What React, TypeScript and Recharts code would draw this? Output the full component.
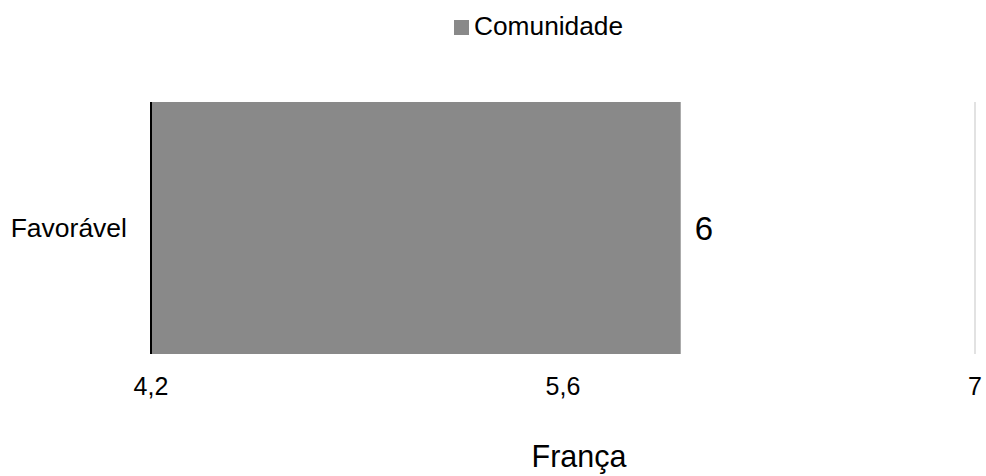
import React from 'react';
import { BarChart, Bar, XAxis, YAxis, CartesianGrid, LabelList, Label } from 'recharts';

const categories = ['Favorável'];
const comunidade = [6];
const xTicks = [4.2, 5.6, 7];
const seriesName = 'Comunidade';
const axisTitle = 'França';

const data = categories.map((name, i) => ({ name, Comunidade: comunidade[i] }));

const FONT = '"Liberation Sans", Arial, sans-serif';
const BAR_COLOR = '#898989';

export default function App() {
  return (
    <div style={{ position: 'absolute', left: 0, top: 0, width: 986, height: 476, background: '#fff' }}>
      {/* legend, drawn on top so it doesn't push the plot down */}
      <span style={{ position: 'absolute', left: 454, top: 20, width: 15, height: 15, background: BAR_COLOR }} />
      <span
        style={{
          position: 'absolute', left: 474, top: 13, fontFamily: FONT, fontSize: 26.3,
          lineHeight: '26px', color: '#000', whiteSpace: 'nowrap',
        }}
      >
        {seriesName}
      </span>
      <BarChart
        layout="vertical"
        width={986}
        height={476}
        data={data}
        margin={{ top: 102, right: 11, bottom: 0, left: 0 }}
        barCategoryGap={0}
        style={{ fontFamily: FONT }}
      >
        <CartesianGrid horizontal={false} stroke="#d9d9d9" strokeWidth={1.5} />
        <XAxis
          type="number"
          domain={[4.2, 7]}
          ticks={xTicks}
          allowDataOverflow
          axisLine={false}
          tickLine={false}
          tickSize={0}
          tickMargin={23}
          height={122}
          tick={{ fill: '#000', fontSize: 25 }}
          tickFormatter={(v: number) => String(v).replace('.', ',')}
        >
          <Label value={axisTitle} position="insideBottom" offset={9} dx={16} fill="#000" fontSize={30.5} />
        </XAxis>
        <YAxis
          type="category"
          dataKey="name"
          width={151}
          axisLine={{ stroke: '#000', strokeWidth: 2 }}
          tickLine={false}
          tickSize={0}
          tickMargin={24}
          tick={{ fill: '#000', fontSize: 26.5 }}
        />
        <Bar dataKey="Comunidade" fill={BAR_COLOR} isAnimationActive={false}>
          <LabelList dataKey="Comunidade" position="right" offset={14} fill="#000" fontSize={33} />
        </Bar>
      </BarChart>
    </div>
  );
}
